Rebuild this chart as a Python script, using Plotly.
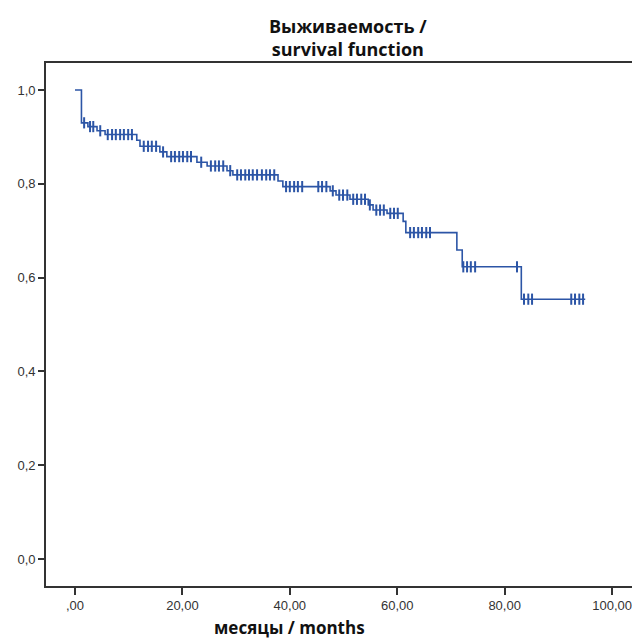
import plotly.graph_objects as go

# Kaplan-Meier step function: time of each step (months) and survival after it
step_times = [0.0, 1.2, 2.4, 4.1, 5.6, 11.5, 12.1, 15.8, 17.1, 22.7, 24.6, 28.3, 29.4,
              37.8, 38.7, 47.5, 48.6, 51.2, 54.6, 55.5, 58.1, 61.1, 61.6, 71.1, 72.1, 83.1]
step_surv = [1.0, 0.930, 0.922, 0.913, 0.905, 0.893, 0.880, 0.868, 0.858, 0.846, 0.838, 0.828, 0.819,
             0.806, 0.794, 0.785, 0.776, 0.767, 0.755, 0.744, 0.737, 0.720, 0.696, 0.659, 0.623, 0.554]
end_time = 95.0

# censored observations (months)
censor_times = [1.7, 2.8, 3.4, 4.7,
                6.1, 6.9, 7.6, 8.4, 9.1, 9.9, 10.6,
                12.8, 13.6, 14.3, 15.1, 16.4,
                17.9, 18.6, 19.4, 20.1, 20.9, 21.6, 23.5,
                25.3, 26.1, 26.8, 27.6, 28.9,
                30.2, 30.9, 31.7, 32.4, 33.1, 33.9, 34.8, 35.6, 36.3, 37.1,
                39.3, 40.0, 40.8, 41.5, 42.3, 45.3, 46.0, 46.8, 48.0,
                49.2, 49.9, 50.7, 51.8, 52.5, 53.3, 54.0, 54.9,
                56.1, 56.8, 57.5, 58.7, 59.4, 60.1,
                62.4, 63.1, 63.9, 64.6, 65.4, 66.1,
                72.3, 73.0, 73.7, 74.5, 82.3,
                83.6, 84.4, 85.1, 92.4, 93.1, 93.9, 94.6]

x_tickvals = [0, 20, 40, 60, 80, 100]
x_ticktext = [",00", "20,00", "40,00", "60,00", "80,00", "100,00"]
y_tickvals = [0.0, 0.2, 0.4, 0.6, 0.8, 1.0]
y_ticktext = ["0,0", "0,2", "0,4", "0,6", "0,8", "1,0"]

title_lines = ["Выживаемость /", "survival function"]
x_title = "месяцы / months"


def surv_at(t):
    s = step_surv[0]
    for tt, ss in zip(step_times, step_surv):
        if tt <= t:
            s = ss
    return s


censor_surv = [surv_at(t) for t in censor_times]

line_color = "#2c55a6"

fig = go.Figure()
fig.add_trace(go.Scatter(
    x=step_times + [end_time], y=step_surv + [step_surv[-1]],
    mode="lines", line=dict(color=line_color, width=1.6, shape="hv"),
    hoverinfo="skip", showlegend=False))
fig.add_trace(go.Scatter(
    x=censor_times, y=censor_surv, mode="markers",
    marker=dict(symbol="line-ns-open", size=8, color=line_color,
                line=dict(color=line_color, width=2)),
    showlegend=False))

axis_font = dict(family="Liberation Sans, Arial, sans-serif", size=13, color="#333333")

# page body has an 8px margin, so the figure is 8px smaller and offset
OFF = 8
W, H = 640 - OFF, 638 - OFF
ML, MR, MT, MB = 46 - OFF, 0, 63 - OFF, 52

fig.update_layout(
    width=W, height=H,
    margin=dict(l=ML, r=MR, t=MT, b=MB, autoexpand=False),
    paper_bgcolor="white", plot_bgcolor="white",
    showlegend=False,
    xaxis=dict(range=[-5.4, 105.2], tickvals=x_tickvals, ticktext=x_ticktext,
               showgrid=False, zeroline=False, showline=True, mirror=True,
               linecolor="#333333", linewidth=1.6, ticks="outside", ticklen=7,
               tickwidth=1.6, tickcolor="#333333", tickfont=axis_font, automargin=False),
    yaxis=dict(range=[-0.0576, 1.0576], tickvals=y_tickvals, ticktext=y_ticktext,
               showgrid=False, zeroline=False, showline=True,
               linecolor="#333333", linewidth=1.6, ticks="outside", ticklen=6,
               tickwidth=1.6, tickcolor="#333333", tickfont=axis_font, automargin=False),
)

pw = W - ML - MR
ph = H - MT - MB


def add_text(text, px, py, size, family):
    # px, py: target page pixel centre
    fig.add_annotation(
        text=text,
        x=(px - OFF - ML) / pw, y=(H - (py - OFF) - MB) / ph,
        xref="paper", yref="paper", xanchor="center", yanchor="middle",
        showarrow=False, borderpad=0,
        font=dict(family=family, size=size, color="#111111"))


add_text("<b>" + title_lines[0] + "</b><br><b>" + title_lines[1] + "</b>",
         348, 37, 18, "Open Sans, sans-serif")
add_text("<b>" + x_title + "</b>", 289, 627, 17, "Open Sans, sans-serif")

fig.write_html("out.html")
